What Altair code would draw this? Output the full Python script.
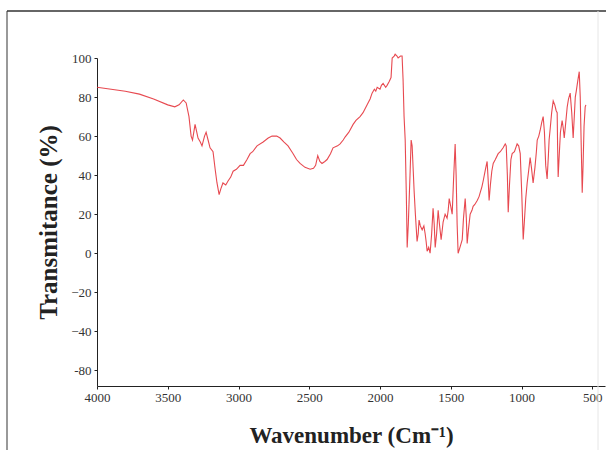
import altair as alt
import pandas as pd

wavenumber = [4000, 3900, 3800, 3700, 3600, 3500, 3450, 3420, 3390, 3370, 3350, 3335, 3325, 3307, 3295, 3286,
              3270, 3258, 3240, 3229, 3215, 3201, 3180, 3165, 3152, 3137, 3125, 3110, 3090, 3074, 3055, 3038,
              3015, 2989, 2965, 2940, 2918, 2900, 2869, 2826, 2790, 2763, 2730, 2706, 2680, 2650, 2614, 2590,
              2565, 2530, 2494, 2470, 2455, 2440, 2425, 2410, 2390, 2374, 2350, 2332, 2300, 2282, 2260, 2247,
              2220, 2190, 2170, 2141, 2120, 2091, 2070, 2056, 2040, 2030, 2020, 2000, 1990, 1978, 1960, 1950,
              1935, 1922, 1914, 1900, 1893, 1880, 1872, 1855, 1844, 1837, 1830, 1822, 1814, 1808, 1800, 1787,
              1780, 1773, 1765, 1759, 1750, 1738, 1730, 1724, 1715, 1702, 1690, 1681, 1674, 1667, 1656, 1646,
              1635, 1625, 1617, 1610, 1600, 1589, 1580, 1568, 1560, 1554, 1540, 1526, 1518, 1511, 1500, 1490,
              1480, 1469, 1462, 1455, 1448, 1435, 1419, 1410, 1398, 1390, 1384, 1375, 1363, 1350, 1342, 1330,
              1313, 1300, 1292, 1280, 1271, 1255, 1243, 1236, 1229, 1220, 1210, 1200, 1185, 1165, 1150, 1130,
              1115, 1108, 1100, 1094, 1085, 1075, 1066, 1050, 1031, 1020, 1009, 998, 988, 980, 970, 960,
              950, 939, 930, 918, 905, 895, 889, 878, 868, 857, 847, 838, 829, 819, 810, 805,
              797, 787, 776, 765, 755, 748, 745, 741, 735, 725, 713, 705, 698, 690, 677, 668,
              656, 645, 635, 627, 620, 613, 603, 592, 585, 578, 571, 565, 558, 550, 545]
transmittance = [85, 84, 83, 81.5, 79, 76, 75, 76, 78.5, 77, 70, 60, 58, 66, 62, 59,
                 57, 55, 60, 62, 58, 54, 52, 43, 36, 30, 33, 36, 35, 37, 39, 42,
                 43, 45, 45, 48, 51, 52, 55, 57, 59, 60, 60, 59, 57, 55, 51, 48,
                 46, 44, 43, 43.5, 45, 50, 47, 46, 47, 48, 51, 54, 55, 56, 58, 59.5,
                 62, 66, 68, 70, 72, 76, 79, 82, 84, 83, 85, 84, 86, 87, 85, 86,
                 88, 90, 100, 101, 102, 101, 100, 101, 101, 89, 70, 58, 30, 3, 15, 42,
                 58, 55, 42, 32, 20, 6, 10, 17, 14, 12, 14, 10, 6, 1, 3, 0,
                 10, 23, 15, 3, 10, 22, 15, 7, 12, 16, 20, 18, 22, 28, 24, 20,
                 38, 56, 40, 15, 0, 3, 7, 18, 28, 18, 5, 12, 20, 22, 24, 25,
                 27, 29, 31, 34, 37, 43, 47, 38, 27, 35, 42, 46, 48, 51, 52, 54,
                 56, 55, 40, 21, 35, 48, 51, 52, 56, 55, 51, 30, 7, 16, 28, 36,
                 42, 49, 44, 36, 44, 52, 58, 60, 63, 67, 70, 62, 45, 38, 50, 58,
                 64, 72, 78, 76, 73, 72, 55, 39, 48, 62, 68, 64, 59, 65, 75, 79,
                 82, 72, 59, 70, 80, 83, 88, 93, 80, 55, 31, 45, 65, 75, 76]

y_tick_values = [100, 80, 60, 40, 20, 0, -20, -40, -60]
x_tick_values = [4000, 3500, 3000, 2500, 2000, 1500, 1000, 500]

df = pd.DataFrame({"wn": wavenumber, "t": transmittance})

FONT = "Liberation Serif"

line = alt.Chart(df).mark_line(color="#e4353d", strokeWidth=1.1, opacity=0.9, clip=False).encode(
    x=alt.X("wn:Q",
            scale=alt.Scale(domain=[4000, 410], nice=False, zero=False),
            axis=alt.Axis(values=x_tick_values, format="d", title="Wavenumber (Cm\u207b\u00b9)",
                          grid=False, tickSize=3, labelFontSize=13, labelFont=FONT,
                          labelColor="#333333", titleFont=FONT, titleFontSize=23,
                          titleFontWeight="bold", titleColor="#222222", titlePadding=20,
                          domainColor="#222222", tickColor="#222222", labelPadding=2,
                          labelFlush=False)),
    y=alt.Y("t:Q",
            scale=alt.Scale(domain=[-68, 100], nice=False, zero=False),
            axis=alt.Axis(values=y_tick_values, format="d", title="Transmitance (%)",
                          labelExpr="datum.value == -60 ? '-80' : datum.label",
                          grid=False, tickSize=3, labelFontSize=13, labelFont=FONT,
                          labelColor="#333333", titleFont=FONT, titleFontSize=25,
                          titleFontWeight="bold", titleColor="#222222", titlePadding=9,
                          domainColor="#222222", tickColor="#222222", labelPadding=3)),
)

frame_left = alt.Chart(df.head(1)).mark_rule(color="#777777", strokeWidth=1.5, clip=False).encode(
    x=alt.value(-90), y=alt.value(-47), y2=alt.value(392))
frame_top = alt.Chart(df.head(1)).mark_rule(color="#333333", strokeWidth=1.5, clip=False).encode(
    x=alt.value(-90), x2=alt.value(509), y=alt.value(-47))
frame_right = alt.Chart(df.head(1)).mark_rule(color="#e6e6e6", strokeWidth=1, clip=False).encode(
    x=alt.value(501), y=alt.value(-47), y2=alt.value(392))

chart = alt.layer(frame_left, frame_top, frame_right, line).properties(
    width=508, height=328,
    autosize=alt.AutoSizeParams(type="none"),
    padding={"left": 97, "top": 58, "right": 1, "bottom": 64},
).configure(background="white").configure_view(strokeWidth=0)

chart.save("out.html", embed_options={"renderer": "svg", "actions": False})
